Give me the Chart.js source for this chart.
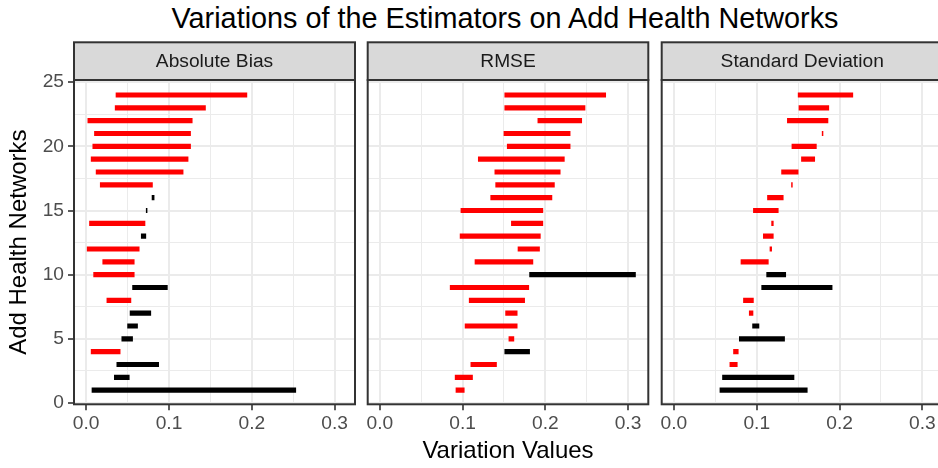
<!DOCTYPE html>
<html>
<head>
<meta charset="utf-8">
<script src="https://cdn.jsdelivr.net/npm/chart.js@4.4.1/dist/chart.umd.min.js"></script>
<style>
    html, body { margin: 0; padding: 0; background: #fff; overflow: hidden; }
    body { width: 938px; height: 468px; position: relative; }
    canvas { position: absolute; top: 0; }
    #title {
        position: absolute; left: 505px; top: 4px; transform: translateX(-50%);
        font: 28.8px 'Liberation Sans', Arial, sans-serif; line-height: 1; color: #000; white-space: nowrap;
    }
</style>
</head>
<body>
<div id="title">Variations of the Estimators on Add Health Networks</div>
<canvas id="biasChart" width="356" height="468" style="left:0px"></canvas>
<canvas id="rmseChart" width="294" height="468" style="left:356px"></canvas>
<canvas id="sdChart" width="294" height="468" style="left:650px"></canvas>
<script>
const networks = [1, 2, 3, 4, 5, 6, 7, 8, 9, 10, 11, 12, 13, 14, 15, 16, 17, 18, 19, 20, 21, 22, 23, 24];
const yTicks = [0, 5, 10, 15, 20, 25];
const xTicks = [0.0, 0.1, 0.2, 0.3];

// Absolute Bias: lower / upper values per network, 1 = red, 0 = black
const biasLow  = [0.007, 0.034, 0.037, 0.006, 0.043, 0.050, 0.053, 0.025, 0.056, 0.009, 0.020, 0.000,
                  0.0665, 0.004, 0.0725, 0.0795, 0.017, 0.012, 0.006, 0.008, 0.010, 0.002, 0.035, 0.036];
const biasHigh = [0.253, 0.052, 0.0875, 0.041, 0.056, 0.062, 0.078, 0.054, 0.098, 0.058, 0.058, 0.064,
                  0.072, 0.071, 0.0735, 0.082, 0.080, 0.117, 0.123, 0.126, 0.126, 0.128, 0.144, 0.194];
const biasRed  = [0, 0, 0, 1, 0, 0, 0, 1, 0, 1, 1, 1, 0, 1, 0, 0, 1, 1, 1, 1, 1, 1, 1, 1];

// RMSE
const rmseLow  = [0.092, 0.091, 0.110, 0.151, 0.156, 0.103, 0.152, 0.108, 0.085, 0.181, 0.115, 0.167,
                  0.097, 0.159, 0.098, 0.134, 0.140, 0.139, 0.119, 0.154, 0.150, 0.191, 0.151, 0.151];
const rmseHigh = [0.102, 0.112, 0.141, 0.181, 0.162, 0.166, 0.166, 0.175, 0.180, 0.309, 0.185, 0.193,
                  0.194, 0.197, 0.197, 0.208, 0.211, 0.218, 0.223, 0.230, 0.230, 0.244, 0.248, 0.273];
const rmseRed  = [1, 1, 1, 0, 1, 1, 1, 1, 1, 0, 1, 1, 1, 1, 1, 1, 1, 1, 1, 1, 1, 1, 1, 1];

// Standard Deviation
const sdLow  = [0.0556, 0.0587, 0.0676, 0.072, 0.079, 0.095, 0.091, 0.084, 0.106, 0.112, 0.081, 0.116,
                0.108, 0.118, 0.096, 0.113, 0.142, 0.130, 0.154, 0.1425, 0.179, 0.137, 0.151, 0.150];
const sdHigh = [0.161, 0.145, 0.0765, 0.0777, 0.1336, 0.1027, 0.0955, 0.096, 0.191, 0.135, 0.114, 0.118,
                0.120, 0.120, 0.126, 0.132, 0.143, 0.150, 0.170, 0.172, 0.180, 0.186, 0.187, 0.216];
const sdRed  = [0, 0, 1, 1, 0, 0, 1, 1, 0, 0, 1, 1, 1, 1, 1, 1, 1, 1, 1, 1, 1, 1, 1, 1];

Chart.defaults.font.family = "'Liberation Sans', Arial, sans-serif";
Chart.defaults.color = '#4D4D4D';

const GRID = '#EBEBEB';
const FRAME = '#333333';
const STRIP_TOP = 42.3;

// strip on top of each panel + panel border
const panelFrame = {
    id: 'panelFrame',
    afterDraw(chart, args, opts) {
        const { ctx, chartArea: a } = chart;
        ctx.save();
        ctx.fillStyle = '#D9D9D9';
        ctx.fillRect(a.left, STRIP_TOP, a.right - a.left, a.top - STRIP_TOP);
        ctx.lineWidth = 2;
        ctx.strokeStyle = FRAME;
        ctx.strokeRect(a.left, STRIP_TOP, a.right - a.left, a.top - STRIP_TOP);
        ctx.fillStyle = '#1A1A1A';
        ctx.font = "19.2px 'Liberation Sans', Arial, sans-serif";
        ctx.textAlign = 'center';
        ctx.textBaseline = 'middle';
        ctx.fillText(opts.label, (a.left + a.right) / 2, (STRIP_TOP + a.top) / 2 + 1);
        ctx.strokeRect(a.left, a.top, a.right - a.left, a.bottom - a.top);
        ctx.restore();
    }
};

const isMajor = (c, step) => {
    if (!c.tick) return true;
    const v = c.tick.value;
    return Math.abs(v / step - Math.round(v / step)) < 1e-6;
};

function buildChart(canvasId, label, low, high, red, opts) {
    const ctx = document.getElementById(canvasId).getContext('2d');

    const points = networks.map((n, i) => ({ y: n, x: [low[i], high[i]] }));
    const colors = red.map(r => r ? '#FF0000' : '#000000');

    return new Chart(ctx, {
        type: 'bar',
        data: {
            datasets: [{
                data: points,
                backgroundColor: colors,
                borderWidth: 0,
                barThickness: 4.5
            }]
        },
        options: {
            indexAxis: 'y',
            responsive: false,
            animation: false,
            layout: { padding: { left: opts.padLeft, right: opts.padRight, top: 80, bottom: 0 } },
            plugins: {
                legend: { display: false },
                tooltip: { enabled: false },
                panelFrame: { label: label }
            },
            scales: {
                x: {
                    type: 'linear',
                    min: -0.0147,
                    max: 0.3245,
                    offset: false,
                    afterBuildTicks: s => {
                        s.ticks = [0, 0.05, 0.1, 0.15, 0.2, 0.25, 0.3].map(v => ({ value: v }));
                    },
                    afterFit: s => { s.height = 63.7; },
                    border: { display: false },
                    grid: {
                        offset: false,
                        color: GRID,
                        lineWidth: c => isMajor(c, 0.1) ? 2 : 1,
                        drawTicks: true,
                        tickLength: 6,
                        tickWidth: 1.6,
                        tickColor: c => isMajor(c, 0.1) ? FRAME : 'rgba(0,0,0,0)'
                    },
                    ticks: {
                        font: { size: 19.2 },
                        color: '#4D4D4D',
                        padding: 2,
                        maxRotation: 0,
                        autoSkip: false,
                        callback: v => xTicks.some(t => Math.abs(t - v) < 1e-6) ? v.toFixed(1) : ''
                    },
                    title: {
                        display: opts.xTitle,
                        text: 'Variation Values',
                        color: '#000',
                        font: { size: 24, lineHeight: 1 },
                        padding: { top: 0, bottom: 5 }
                    }
                },
                y: {
                    type: 'linear',
                    min: -0.1,
                    max: 25.17,
                    offset: false,
                    afterBuildTicks: s => {
                        s.ticks = [0, 2.5, 5, 7.5, 10, 12.5, 15, 17.5, 20, 22.5, 25].map(v => ({ value: v }));
                    },
                    afterFit: s => { s.width = opts.yWidth; },
                    border: { display: false },
                    grid: {
                        offset: false,
                        color: GRID,
                        lineWidth: c => isMajor(c, 5) ? 2 : 1,
                        drawTicks: opts.yLabels,
                        tickLength: 6,
                        tickWidth: 1.6,
                        tickColor: c => isMajor(c, 5) ? FRAME : 'rgba(0,0,0,0)'
                    },
                    ticks: {
                        display: opts.yLabels,
                        font: { size: 19.2 },
                        color: '#4D4D4D',
                        padding: 4,
                        autoSkip: false,
                        callback: v => yTicks.includes(v) ? String(v) : ''
                    },
                    title: {
                        display: opts.yLabels,
                        text: 'Add Health Networks',
                        color: '#000',
                        font: { size: 24, lineHeight: 1 },
                        padding: { top: 7, bottom: 0 }
                    }
                }
            }
        },
        plugins: [panelFrame]
    });
}

buildChart('biasChart', 'Absolute Bias', biasLow, biasHigh, biasRed,
    { padLeft: 0, padRight: 1, yWidth: 74, yLabels: true, xTitle: false });
buildChart('rmseChart', 'RMSE', rmseLow, rmseHigh, rmseRed,
    { padLeft: 11.7, padRight: 1.7, yWidth: 0, yLabels: false, xTitle: true });
buildChart('sdChart', 'Standard Deviation', sdLow, sdHigh, sdRed,
    { padLeft: 11.7, padRight: 1.3, yWidth: 0, yLabels: false, xTitle: false });
</script>
</body>
</html>
